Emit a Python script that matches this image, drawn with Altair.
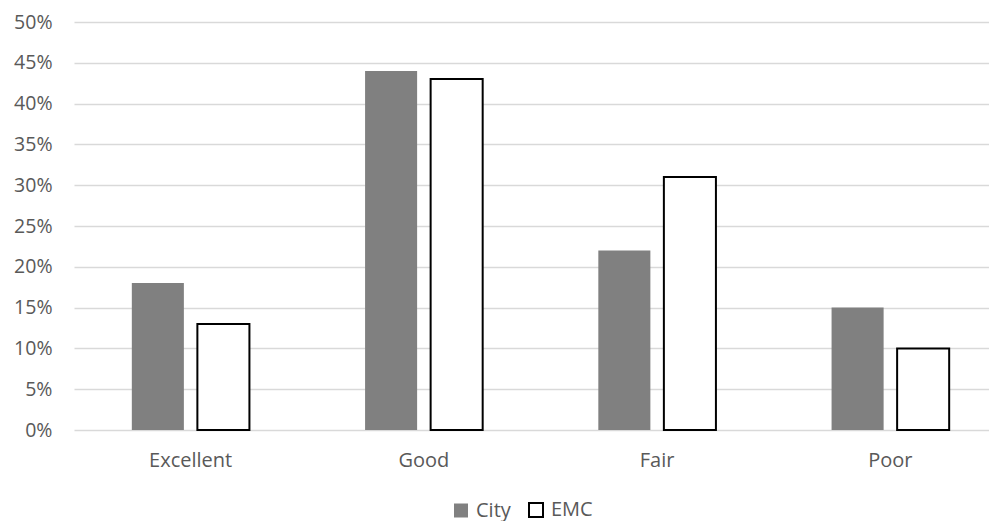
import altair as alt
import pandas as pd

categories = ["Excellent", "Good", "Fair", "Poor"]
city = [0.18, 0.44, 0.22, 0.15]
emc = [0.13, 0.43, 0.31, 0.10]
series = ["City", "EMC"]

rows = []
for i, c in enumerate(categories):
    rows.append({"cat": c, "series": "City", "value": city[i]})
    rows.append({"cat": c, "series": "EMC", "value": emc[i]})
df = pd.DataFrame(rows)

font = "Open Sans"
txt = "#595959"

chart = alt.Chart(df).mark_bar().encode(
    x=alt.X("cat:N", sort=categories, title=None,
            scale=alt.Scale(paddingInner=0, paddingOuter=0, range=[0, 933]),
            axis=alt.Axis(labelAngle=0, ticks=False, domain=False, labelPadding=20,
                          labelFontSize=20, labelColor=txt, labelFont=font)),
    xOffset=alt.XOffset("series:N", sort=series,
                        scale=alt.Scale(paddingInner=0.206, paddingOuter=0.882)),
    y=alt.Y("value:Q", title=None,
            scale=alt.Scale(domain=[0, 0.5], nice=False),
            axis=alt.Axis(format=".0%", values=[i * 0.05 for i in range(11)],
                          ticks=False, domain=False, labelPadding=22,
                          labelFontSize=19.5, labelColor=txt, labelFont=font,
                          gridColor="#d9d9d9", gridWidth=1.5)),
    fill=alt.Fill("series:N", sort=series,
                  scale=alt.Scale(domain=series, range=["#808080", "#ffffff"]),
                  legend=alt.Legend(title=None, orient="none", direction="horizontal",
                                    legendX=377, legendY=478, symbolType="square",
                                    symbolSize=196, labelFontSize=20, labelColor=txt,
                                    labelFont=font, columnPadding=14,
                                    symbolStrokeWidth=2, labelOffset=5)),
    stroke=alt.Stroke("series:N", sort=series,
                      scale=alt.Scale(domain=series, range=["#808080", "#000000"]),
                      legend=None),
    strokeWidth=alt.StrokeWidth("series:N", sort=series,
                                scale=alt.Scale(domain=series, range=[0, 2]),
                                legend=None),
).properties(
    width=915, height=408,
    autosize=alt.AutoSizeParams(type="none"),
    padding={"left": 66, "top": 14, "right": 0, "bottom": 91},
).configure_view(stroke=None)

chart.save("out.html", embed_options={"renderer": "svg", "actions": False})
